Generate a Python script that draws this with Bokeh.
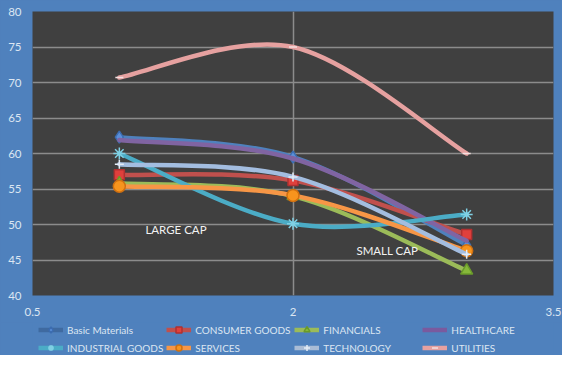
from bokeh.plotting import figure
from bokeh.layouts import column
from bokeh.models import FixedTicker, Legend, LegendItem, ColumnDataSource, Range1d
from bokeh.core.properties import value
from bokeh.embed import file_html
from bokeh.resources import INLINE

# ---- data ----
x_vals = [1, 2, 3]
basic_materials = [62.3, 59.5, 47.1]
consumer_goods = [57.0, 56.2, 48.6]
financials = [55.8, 54.0, 43.5]
healthcare = [61.9, 59.3, 47.7]
industrial_goods = [60.0, 50.1, 51.4]
services = [55.4, 54.1, 46.3]
technology = [58.5, 56.7, 45.8]
utilities = [70.7, 75.0, 60.0]

series_names = ["Basic Materials", "CONSUMER GOODS", "FINANCIALS", "HEALTHCARE",
                "INDUSTRIAL GOODS", "SERVICES", "TECHNOLOGY", "UTILITIES"]
series_values = [basic_materials, consumer_goods, financials, healthcare,
                 industrial_goods, services, technology, utilities]

x_ticks = [0.5, 2, 3.5]
x_tick_labels = ["0.5", "2", "3.5"]
y_ticks = [40, 45, 50, 55, 60, 65, 70, 75, 80]

annotations = ["LARGE CAP", "SMALL CAP"]
annotation_x = [1.15, 2.365]
annotation_y = [49.3, 46.4]

# ---- styles ----
BG = "#4f81bd"
line_colors = ["#4f81bd", "#c0504d", "#9bbb59", "#8064a2",
               "#4bacc6", "#f79646", "#a3bde0", "#e6a1a0"]
legend_line_colors = ["#3f6aa0", "#c0504d", "#9bbb59", "#7a5a9e",
                      "#4bacc6", "#f79646", "#a9bcd6", "#e6a1a0"]
markers = ["diamond", "square", "triangle", None,
           "asterisk", "circle", "cross", "dash"]
marker_fill = ["#5b8fd8", "#e0403c", "#86b83a", None,
               None, "#f7941d", None, None]
marker_line = ["#3b6cb0", "#b03030", "#6a9a2a", None,
               "#7fd0e4", "#d07010", "#e4ecf6", "#f4e0e0"]
marker_size = [12, 10, 12, None, 12, 12, 9, 8]

LABEL_COLOR = "#dce6f2"
FONT = "Lato"


def smooth_segments(xs, ys):
    """Catmull-Rom style bezier control points (Excel 'smoothed line')."""
    n = len(xs)
    pts = list(zip(xs, ys))
    d = dict(x0=[], y0=[], x1=[], y1=[], cx0=[], cy0=[], cx1=[], cy1=[])
    for i in range(n - 1):
        p0 = pts[i - 1] if i > 0 else pts[i]
        p1 = pts[i]
        p2 = pts[i + 1]
        p3 = pts[i + 2] if i + 2 < n else pts[i + 1]
        d["x0"].append(p1[0]); d["y0"].append(p1[1])
        d["x1"].append(p2[0]); d["y1"].append(p2[1])
        d["cx0"].append(p1[0] + (p2[0] - p0[0]) / 6.0)
        d["cy0"].append(p1[1] + (p2[1] - p0[1]) / 6.0)
        d["cx1"].append(p2[0] - (p3[0] - p1[0]) / 6.0)
        d["cy1"].append(p2[1] - (p3[1] - p1[1]) / 6.0)
    return d


def marker_kw(i):
    kw = dict(marker=markers[i], size=marker_size[i],
              line_color=marker_line[i], line_width=1.5)
    if marker_fill[i] is not None:
        kw["fill_color"] = marker_fill[i]
    else:
        kw["fill_alpha"] = 0
    return kw


# ---- main chart ----
p = figure(width=562, height=322, output_backend="svg", toolbar_location=None,
           x_range=Range1d(0.5, 3.5), y_range=Range1d(40, 80),
           min_border_left=32, min_border_top=11, min_border_right=9,
           min_border_bottom=27)

p.border_fill_color = BG
p.background_fill_color = "#404040"
p.outline_line_color = None

for ax in (p.xaxis[0], p.yaxis[0]):
    ax.axis_line_color = None
    ax.major_tick_line_color = None
    ax.minor_tick_line_color = None
    ax.major_tick_out = 0
    ax.major_tick_in = 0
    ax.major_label_text_color = LABEL_COLOR
    ax.major_label_text_font = FONT
    ax.major_label_text_font_size = "11.5px"
p.xaxis.ticker = FixedTicker(ticks=x_ticks)
p.xaxis.major_label_overrides = {t: l for t, l in zip(x_ticks, x_tick_labels)}
p.xaxis.major_label_standoff = 12
p.yaxis.ticker = FixedTicker(ticks=y_ticks)
p.yaxis.major_label_standoff = 11

p.ygrid.grid_line_color = "#8c8c8c"
p.ygrid.grid_line_width = 1.5
p.xgrid.ticker = FixedTicker(ticks=[2])
p.xgrid.grid_line_color = "#8c8c8c"
p.xgrid.grid_line_width = 1.5

for i, vals in enumerate(series_values):
    src = ColumnDataSource(smooth_segments(x_vals, vals))
    p.bezier(x0="x0", y0="y0", x1="x1", y1="y1", cx0="cx0", cy0="cy0",
             cx1="cx1", cy1="cy1", source=src, line_color=line_colors[i],
             line_width=4.5, line_cap="round")
    if markers[i] is not None:
        p.scatter(x=x_vals, y=vals, **marker_kw(i))

p.text(x=annotation_x, y=annotation_y, text=annotations,
       text_color="#f2f2f2", text_font=value(FONT), text_font_size="11.5px",
       text_align="left", text_baseline="middle")

# ---- legend strip ----
lg = figure(width=562, height=33, output_backend="svg", toolbar_location=None,
            x_range=Range1d(0, 1), y_range=Range1d(0, 1),
            min_border_left=0, min_border_top=0, min_border_right=0,
            min_border_bottom=0)
lg.axis.visible = False
lg.grid.visible = False
lg.border_fill_color = BG
lg.background_fill_color = BG
lg.outline_line_color = None

# legend swatches: renderers whose point lies outside the strip's ranges
items = []
for i, name in enumerate(series_names):
    rends = [lg.line(x=[-5, -4], y=[-5, -4], line_color=legend_line_colors[i],
                     line_width=4.5)]
    if markers[i] is not None:
        kw = marker_kw(i)
        kw["size"] = min(kw["size"], 10)
        rends.append(lg.scatter(x=[-5], y=[-5], **kw))
    items.append(LegendItem(label=name, renderers=rends))

legend = Legend(items=items, ncols=4, orientation="horizontal",
                location=(6, 0),
                padding=0, margin=0, spacing=3,
                glyph_width=25, glyph_height=15, label_height=15,
                label_width=96, label_standoff=4,
                background_fill_alpha=0, border_line_color=None,
                label_text_color=LABEL_COLOR, label_text_font=FONT,
                label_text_font_size="10px")
lg.add_layout(legend, "center")

layout = column(p, lg, spacing=0, styles={"background-color": BG})
open("out.html", "w").write(file_html(layout, INLINE))
